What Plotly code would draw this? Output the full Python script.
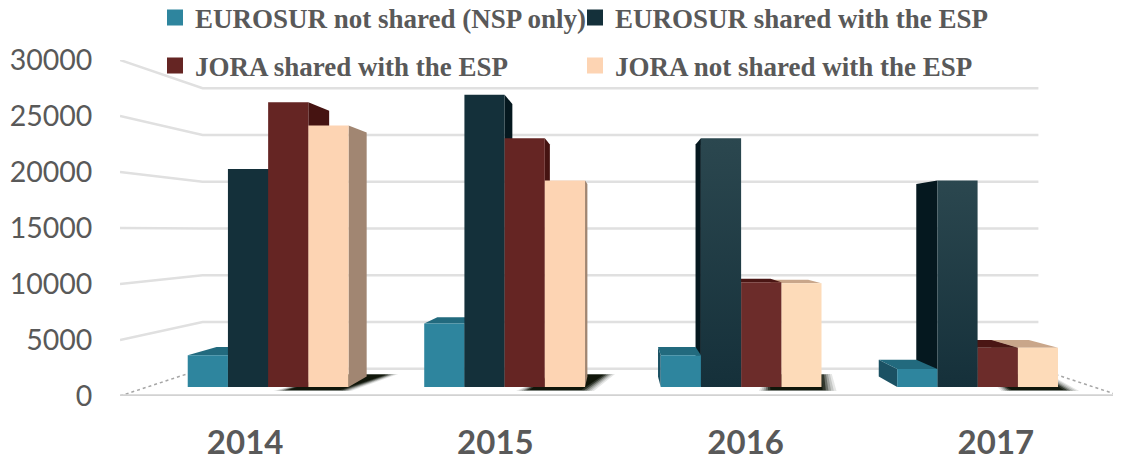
import plotly.graph_objects as go

years = ["2014", "2015", "2016", "2017"]
series = ["EUROSUR not shared (NSP only)", "EUROSUR shared with the ESP",
          "JORA shared with the ESP", "JORA not shared with the ESP"]
eurosur_not_shared = [3000, 6000, 3000, 1700]
eurosur_shared = [20600, 27600, 23500, 19500]
jora_shared = [26900, 23500, 9900, 3700]
jora_not_shared = [24700, 19500, 9800, 3700]
values = [eurosur_not_shared, eurosur_shared, jora_shared, jora_not_shared]
y_ticks = [0, 5000, 10000, 15000, 20000, 25000, 30000]

front_colors = ["#2e859e", "#14303a", "#652523", "#fdd4b3"]
front_colors_late = ["#2e859e", "#14303a", "#6c2c2a", "#fddbb9"]
top_colors = ["#226a7e", "#0f262e", "#4a1614", "#c9a68a"]
side_colors = ["#1b5163", "#05181f", "#451311", "#a18672"]
dark_gradient_top = "#2b474f"
dark_gradient_bottom = "#15303a"
grey = "#595959"
grid = "#e0e0e0"

# perspective of the 3-D chart, expressed in axis units
VX, VV = 2.0, 14700
S_FRONT, S_BACK_BAR, S_WALL = 1.0, 0.945, 0.835
S_BAR_REAR = 0.882
BAR_W = 0.17
GROUP_SHIFT = 0.01


def proj(x, v, s):
    return VX + (x - VX) * s, VV + (v - VV) * s


def poly(points, color, opacity=1.0, gradient=None):
    xs = [p[0] for p in points] + [points[0][0]]
    ys = [p[1] for p in points] + [points[0][1]]
    kw = dict(fillcolor=color)
    if gradient:
        kw = dict(fillgradient=dict(type="vertical", colorscale=[[0, gradient[0]], [1, gradient[1]]]))
    return go.Scatter(x=xs, y=ys, mode="lines", fill="toself", line=dict(width=0),
                      opacity=opacity, showlegend=False, hoverinfo="skip", **kw)


fig = go.Figure()

# walls and gridlines
gx, gy = [], []
for v in y_ticks[1:]:
    for X, s in [(0, S_FRONT), (0, S_WALL), (4, S_WALL)]:
        a, b = proj(X, v, s)
        gx.append(a)
        gy.append(b)
    gx.append(None)
    gy.append(None)
a, b = proj(0, 0, S_WALL)
c, d = proj(4, 0, S_WALL)
gx += [a, c]
gy += [b, d]
fig.add_trace(go.Scatter(x=gx, y=gy, mode="lines", line=dict(color=grid, width=2.5),
                         showlegend=False, hoverinfo="skip"))
for X in (0, 4):
    a, b = proj(X, 0, S_WALL)
    c, d = proj(X, 0, S_FRONT)
    fig.add_trace(go.Scatter(x=[a, c], y=[b, d], mode="lines",
                             line=dict(color="#a6a6a6", width=1.5, dash="dot"),
                             showlegend=False, hoverinfo="skip"))
a, b = proj(0, 0, S_FRONT)
c, d = proj(4, 0, S_FRONT)
fig.add_trace(go.Scatter(x=[a, c], y=[b, d], mode="lines", cliponaxis=False,
                         line=dict(color="#d2d2d2", width=3.5), showlegend=False, hoverinfo="skip"))

for g in range(4):
    cx = g + 0.5 + GROUP_SHIFT
    left = cx - 2 * BAR_W

    # soft floor shadow behind the last bar of the group
    sl = left + 3 * BAR_W
    sr = left + 4 * BAR_W
    for grow, op in [(0.04, 0.10), (0.03, 0.14), (0.02, 0.2), (0.01, 0.35), (0.0, 0.6), (-0.012, 0.85)]:
        fig.add_trace(poly([proj(sl - 0.07 - grow, 0, 0.965 + grow * 0.12),
                            proj(sr + 0.0 + grow, 0, 0.965 + grow * 0.12),
                            proj(sr + 0.085 + grow, 0, 0.87 - grow * 0.1),
                            proj(sl, 0, 0.87 - grow * 0.1)], "#0a1005", op))

    order = range(4) if g < 2 else range(3, -1, -1)
    colors = front_colors if g < 2 else front_colors_late
    for j in order:
        xl = left + j * BAR_W
        xr = xl + BAR_W
        top = values[j][g]
        f = S_BACK_BAR
        r = S_BAR_REAR
        # side face, on the side turned towards the vanishing point
        edge = xr if xr < VX else xl
        fig.add_trace(poly([proj(edge, 0, f), proj(edge, top, f),
                            proj(edge, top, r), proj(edge, 0, r)], side_colors[j]))
        # top face, only seen below eye level
        if top < VV:
            fig.add_trace(poly([proj(xl, top, f), proj(xr, top, f),
                                proj(xr, top, r), proj(xl, top, r)], top_colors[j]))
        grad = None
        if j == 1 and g >= 2:
            grad = (dark_gradient_bottom, dark_gradient_top)
        fig.add_trace(poly([proj(xl, 0, f), proj(xr, 0, f),
                            proj(xr, top, f), proj(xl, top, f)], colors[j], gradient=grad))

# legend keys
for j, name in enumerate(series):
    fig.add_trace(go.Scatter(x=[None], y=[None], mode="markers", name=name,
                             marker=dict(symbol="square", size=16, color=front_colors[j]),
                             legend="legend" if j < 2 else "legend2"))

FIG_W, FIG_H = 1113, 451
legend_style = dict(orientation="h", xanchor="left", yanchor="middle",
                    xref="container", yref="container",
                    x=(155 - 8) / FIG_W, entrywidth=375, entrywidthmode="pixels",
                    bgcolor="rgba(0,0,0,0)", borderwidth=0, itemclick=False, itemdoubleclick=False,
                    font=dict(family="Liberation Serif", size=27, color=grey, weight="bold"))

# the page keeps an 8 px body margin, so the figure is 8 px smaller than the window
fig.update_layout(
    width=FIG_W, height=FIG_H, paper_bgcolor="white", plot_bgcolor="white",
    margin=dict(l=112, r=0, t=52, b=63, autoexpand=False),
    showlegend=True,
    legend=dict(y=1 - (18 - 8) / FIG_H, **legend_style),
    legend2=dict(y=1 - (66 - 8) / FIG_H, **legend_style),
    xaxis=dict(range=[0, 4], tickmode="array", tickvals=[0.5, 1.5, 2.5, 3.5], ticktext=years,
               showgrid=False, zeroline=False, showline=False, ticks="outside", ticklen=17,
               tickcolor="rgba(0,0,0,0)", automargin=False,
               tickfont=dict(family="Lato", size=33, color=grey, weight="bold")),
    yaxis=dict(range=[0, 30000], tickmode="array", tickvals=y_ticks,
               ticktext=[str(v) for v in y_ticks],
               showgrid=False, zeroline=False, showline=False, ticks="outside", ticklen=21,
               tickcolor="rgba(0,0,0,0)", automargin=False,
               tickfont=dict(family="Lato", size=28.5, color=grey)),
)
fig.write_html("out.html")
